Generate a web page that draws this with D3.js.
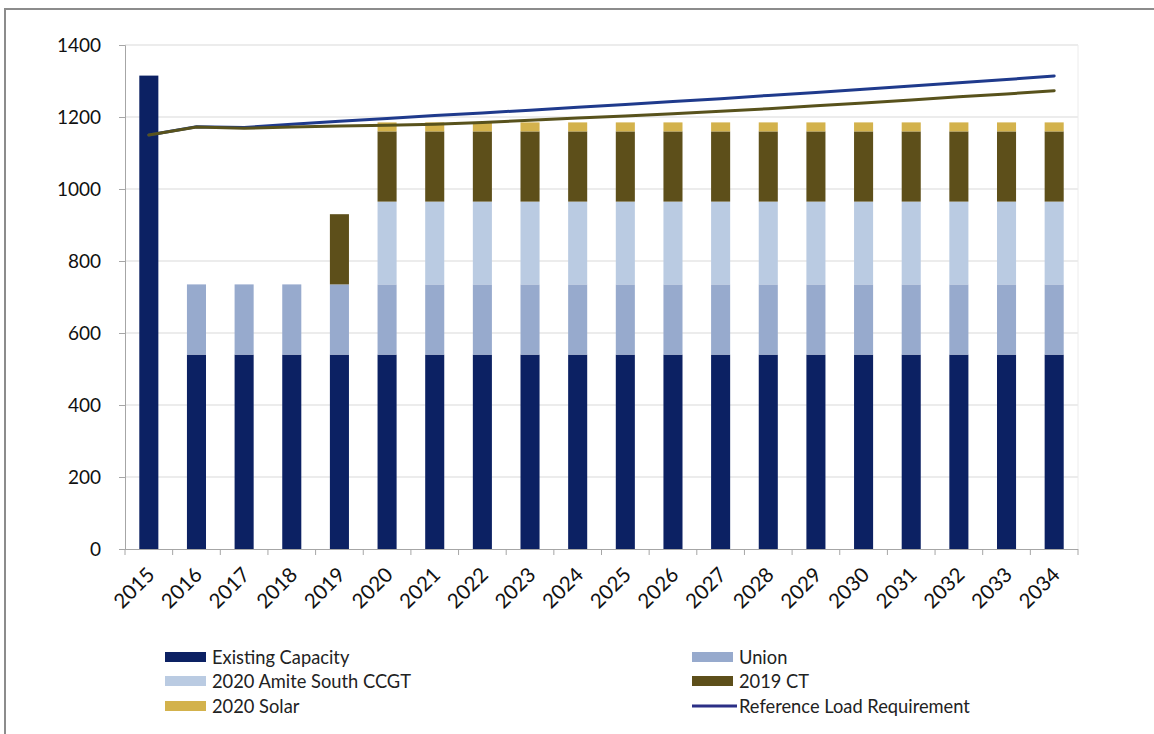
<!DOCTYPE html>
<html>
<head>
<meta charset="utf-8">
<script src="https://cdn.jsdelivr.net/npm/d3@7"></script>
<style>
  html, body { margin: 0; padding: 0; background: #ffffff; }
  svg { display: block; }
</style>
</head>
<body>
<svg id="chart" width="1154" height="734"></svg>
<script>
// ---------- DATA ----------
const years = ["2015","2016","2017","2018","2019","2020","2021","2022","2023","2024",
               "2025","2026","2027","2028","2029","2030","2031","2032","2033","2034"];
const existingCapacity = [1315,540,540,540,540,540,540,540,540,540,540,540,540,540,540,540,540,540,540,540];
const union            = [0,195,195,195,195,195,195,195,195,195,195,195,195,195,195,195,195,195,195,195];
const amiteSouthCCGT   = [0,0,0,0,0,230,230,230,230,230,230,230,230,230,230,230,230,230,230,230];
const ct2019           = [0,0,0,0,195,195,195,195,195,195,195,195,195,195,195,195,195,195,195,195];
const solar2020        = [0,0,0,0,0,25,25,25,25,25,25,25,25,25,25,25,25,25,25,25];
const referenceLoad    = [1150,1173,1171,1180,1188,1196,1204,1211,1219,1227,1235,1243,1251,1260,1268,1277,1286,1295,1304,1314];
const secondLoadLine   = [1150,1172,1169,1172,1175,1177,1180,1185,1191,1197,1203,1209,1216,1223,1231,1239,1247,1256,1264,1273];
const yTicks = [0,200,400,600,800,1000,1200,1400];

const seriesNames  = ["Existing Capacity","Union","2020 Amite South CCGT","2019 CT","2020 Solar"];
const seriesValues = [existingCapacity, union, amiteSouthCCGT, ct2019, solar2020];
const seriesColors = ["#0c2163","#97aacd","#bacbe2","#5d4f1a","#d3b24c"];
const lineColor = "#1f3a8c";
const line2Color = "#58521c";

// ---------- LAYOUT ----------
const svg = d3.select("#chart");
const pLeft = 125, pRight = 1078, pTop = 45, pBottom = 549;
const fontFam = "Lato, 'Open Sans', sans-serif";

// outer frame
svg.append("rect").attr("x",5).attr("y",9).attr("width",1170).attr("height",760)
  .attr("fill","none").attr("stroke","#8c8c8c").attr("stroke-width",2);

const x = d3.scaleBand().domain(years).range([pLeft, pRight]).paddingInner(0.6).paddingOuter(0.3);
const y = d3.scaleLinear().domain([0,1400]).range([pBottom, pTop]);

// gridlines
svg.append("g").selectAll("line").data(yTicks.filter(d => d > 0)).join("line")
  .attr("x1", pLeft).attr("x2", pRight)
  .attr("y1", d => y(d)).attr("y2", d => y(d))
  .attr("stroke", "#d9d9d9").attr("stroke-width", 1);
// right faint border
svg.append("line").attr("x1", pRight).attr("x2", pRight).attr("y1", pTop).attr("y2", pBottom)
  .attr("stroke","#ececec");

// stacked bars
const table = years.map((yr, i) => {
  const o = { year: yr };
  seriesNames.forEach((n, k) => o[n] = seriesValues[k][i]);
  return o;
});
const stack = d3.stack().keys(seriesNames)(table);
svg.append("g").selectAll("g").data(stack).join("g")
  .attr("fill", (d, i) => seriesColors[i])
  .selectAll("rect").data(d => d).join("rect")
  .attr("x", d => x(d.data.year))
  .attr("width", x.bandwidth())
  .attr("y", d => y(d[1]))
  .attr("height", d => Math.max(0, y(d[0]) - y(d[1])));

// lines
const lineGen = d3.line().x((d, i) => x(years[i]) + x.bandwidth() / 2).y(d => y(d));
svg.append("path").datum(referenceLoad).attr("d", lineGen)
  .attr("fill","none").attr("stroke", lineColor).attr("stroke-width", 3).attr("stroke-linecap","round");
svg.append("path").datum(secondLoadLine).attr("d", lineGen)
  .attr("fill","none").attr("stroke", line2Color).attr("stroke-width", 3).attr("stroke-linecap","round");

// y axis
const yAxis = svg.append("g").attr("transform", `translate(${pLeft},0)`)
  .call(d3.axisLeft(y).tickValues(yTicks).tickSize(6).tickPadding(18).tickFormat(d3.format("d")));
yAxis.select(".domain").attr("stroke","#a6a6a6");
yAxis.selectAll(".tick line").attr("stroke","#a6a6a6");
yAxis.selectAll("text").attr("font-family", fontFam).attr("font-size", 19).attr("fill","#111");

// x axis
const xAxis = svg.append("g").attr("transform", `translate(0,${pBottom})`)
  .call(d3.axisBottom(x).tickSize(0).tickPadding(0));
xAxis.select(".domain").attr("stroke","#a6a6a6").attr("d", `M${pLeft-6},0.5H${pRight}`);
xAxis.selectAll("text")
  .attr("font-family", fontFam).attr("font-size", 20.5).attr("fill","#111")
  .attr("text-anchor","end").attr("dy", 0)
  .attr("transform","translate(7,27) rotate(-45)");
// band boundary ticks
const boundaries = years.map(yr => x(yr) - x.step() * x.paddingInner() / 2).concat([pRight]);
svg.append("g").selectAll("line").data(boundaries).join("line")
  .attr("x1", d => d).attr("x2", d => d)
  .attr("y1", pBottom).attr("y2", pBottom + 6)
  .attr("stroke","#a6a6a6");

// legend
const legendItems = [
  { name: "Existing Capacity", color: seriesColors[0], type: "rect", col: 0, row: 0 },
  { name: "Union", color: seriesColors[1], type: "rect", col: 1, row: 0 },
  { name: "2020 Amite South CCGT", color: seriesColors[2], type: "rect", col: 0, row: 1 },
  { name: "2019 CT", color: seriesColors[3], type: "rect", col: 1, row: 1 },
  { name: "2020 Solar", color: seriesColors[4], type: "rect", col: 0, row: 2 },
  { name: "Reference Load Requirement", color: "#2b2f86", type: "line", col: 1, row: 2 }
];
const colX = [165, 692];
const rowY = [657, 681, 706];
const lg = svg.append("g").selectAll("g").data(legendItems).join("g")
  .attr("transform", d => `translate(${colX[d.col]},${rowY[d.row]})`);
lg.filter(d => d.type === "rect").append("rect")
  .attr("x", 0).attr("y", -5).attr("width", 41).attr("height", 10).attr("fill", d => d.color);
lg.filter(d => d.type === "line").append("line")
  .attr("x1", 0).attr("x2", 45).attr("y1", 0).attr("y2", 0)
  .attr("stroke", d => d.color).attr("stroke-width", 3);
lg.append("text")
  .attr("x", d => d.type === "line" ? 47 : 47).attr("y", 0).attr("dy", "0.36em")
  .attr("font-family", fontFam).attr("font-size", 18.3).attr("fill","#222")
  .text(d => d.name);
</script>
</body>
</html>
